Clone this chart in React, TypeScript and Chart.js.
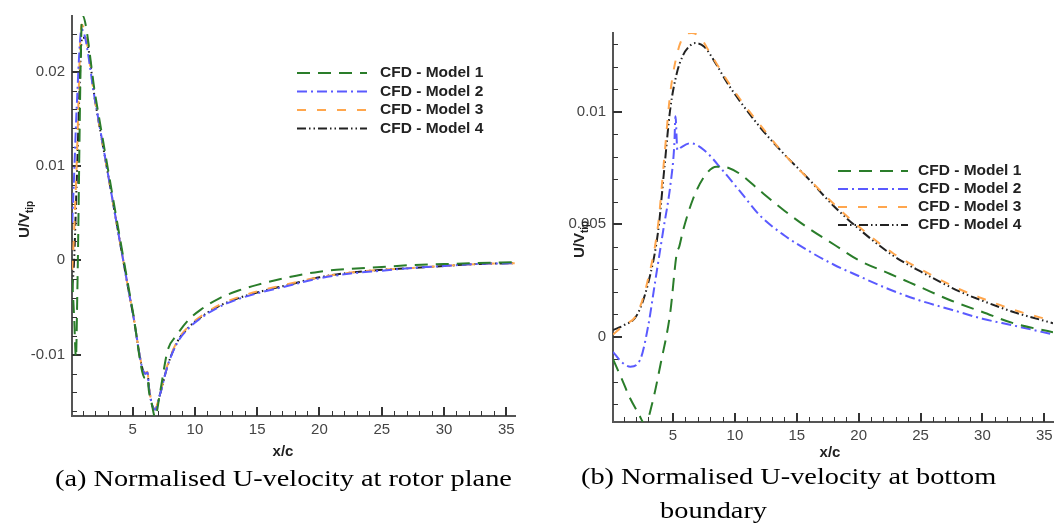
import React, { useEffect, useRef } from 'react';
import { Chart, registerables } from 'chart.js';

Chart.register(...registerables);

// ---------- shared series styling ----------
const SERIES_LABELS = ['CFD - Model 1', 'CFD - Model 2', 'CFD - Model 3', 'CFD - Model 4'];
const SERIES_COLORS = ['#2a7d2a', '#5a5aff', '#ffa64d', '#222222'];
const SERIES_DASHES = [[13, 8], [10, 4, 2, 4], [9, 11], [9, 3, 1.5, 3, 1.5, 3]];

// ---------- chart (a): rotor plane ----------
const aX1 = [0.15, 0.3, 0.45, 0.55, 0.95, 2, 3, 4, 5, 6, 6.2, 6.3, 6.5, 6.8, 7.2, 7.8, 8.5, 9.5, 10.5, 12, 13.5, 15, 17.5, 20, 22.5, 25, 27.5, 30, 32.5, 35.7];
const aY1 = [-0.002, -0.006, -0.0103, -0.004, 0.026, 0.0175, 0.0098, 0.0022, -0.0053, -0.0125, -0.0124, -0.0138, -0.015, -0.0166, -0.014, -0.0096, -0.008, -0.0063, -0.0052, -0.004, -0.0032, -0.0026, -0.0018, -0.0012, -0.0009, -0.0007, -0.0005, -0.0004, -0.0003, -0.0002];

const aX2 = [0.15, 0.3, 0.5, 0.9, 2, 3, 4, 5, 6, 6.2, 6.3, 6.6, 6.8, 7.2, 7.8, 8.6, 9.5, 10.5, 12, 13.5, 15, 17.5, 20, 22.5, 25, 27.5, 30, 32.5, 35.7];
const aY2 = [0.004, 0.009, 0.016, 0.0245, 0.0168, 0.0093, 0.0018, -0.0055, -0.012, -0.0119, -0.0134, -0.0155, -0.0158, -0.0142, -0.0112, -0.0087, -0.0072, -0.0061, -0.0049, -0.0041, -0.0035, -0.0027, -0.0019, -0.0014, -0.0011, -0.0008, -0.0006, -0.0004, -0.0003];

const aX3 = [0.15, 0.3, 0.5, 0.9, 2, 3, 4, 5, 6, 6.2, 6.3, 6.6, 6.8, 7.2, 7.8, 8.6, 9.5, 10.5, 12, 13.5, 15, 17.5, 20, 22.5, 25, 27.5, 30, 32.5, 35.7];
const aY3 = [-0.001, 0.003, 0.01, 0.025, 0.0168, 0.0093, 0.0018, -0.0055, -0.0119, -0.0118, -0.0133, -0.0154, -0.0157, -0.0141, -0.0111, -0.0085, -0.007, -0.0059, -0.0047, -0.0039, -0.0033, -0.0025, -0.0018, -0.0013, -0.001, -0.0008, -0.0006, -0.0004, -0.0003];

const aX4 = [0.15, 0.3, 0.5, 0.95, 1.2, 2, 3, 4, 5, 6, 6.2, 6.3, 6.6, 6.8, 7.2, 7.8, 8.6, 9.5, 10.5, 12, 13.5, 15, 17.5, 20, 22.5, 25, 27.5, 30, 32.5, 35.7];
const aY4 = [-0.003, 0.0, 0.008, 0.0236, 0.0236, 0.0168, 0.0093, 0.0018, -0.0055, -0.012, -0.0119, -0.0134, -0.0155, -0.0158, -0.0142, -0.0112, -0.0086, -0.0071, -0.006, -0.0048, -0.004, -0.0034, -0.0026, -0.0018, -0.0013, -0.001, -0.0008, -0.0006, -0.0004, -0.0003];

const aXTicks = [5, 10, 15, 20, 25, 30, 35];
const aYTicks = [-0.01, 0, 0.01, 0.02];
const aYTickLabels = ['-0.01', '0', '0.01', '0.02'];

// ---------- chart (b): bottom boundary ----------
const bX1 = [0.15, 0.8, 1.5, 2.2, 2.75, 3.3, 4, 4.77, 5.3, 5.5, 5.8, 6.6, 7.5, 8.5, 9.5, 10.5, 12, 14, 16, 18, 20, 22.5, 25, 27.5, 30, 32.5, 35.7];
const bY1 = [-0.001, -0.0018, -0.0027, -0.0034, -0.0039, -0.003, -0.0012, 0.00105, 0.0037, 0.004, 0.0047, 0.0061, 0.0071, 0.00756, 0.0075, 0.0072, 0.0065, 0.0056, 0.0048, 0.0041, 0.0034, 0.0028, 0.0022, 0.0016, 0.0011, 0.0006, 0.0002];

const bX2 = [0.15, 0.8, 1.55, 2.36, 3, 3.57, 4.2, 4.8, 5.1, 5.2, 5.35, 5.6, 6.4, 7.5, 9, 10.5, 12, 14, 16, 18, 20, 22.5, 25, 27.5, 30, 32.5, 35.7];
const bY2 = [-0.00067, -0.0011, -0.00133, -0.001, 0.0005, 0.0025, 0.0047, 0.0068, 0.0085, 0.0098, 0.0083, 0.0084, 0.0086, 0.0083, 0.0074, 0.0064, 0.0054, 0.0045, 0.0038, 0.0032, 0.0027, 0.0021, 0.0016, 0.0012, 0.0008, 0.0005, 0.0001];

const bX3 = [0.15, 1, 2.08, 3, 3.8, 4.3, 4.77, 5.3, 5.8, 6.5, 7.2, 8, 9.36, 10.5, 12.05, 14, 15.8, 18, 20, 22.8, 25, 28.2, 30, 32.5, 35.7];
const bY3 = [0.0001, 0.0005, 0.001, 0.0026, 0.005, 0.008, 0.0108, 0.0125, 0.0133, 0.0135, 0.0133, 0.0126, 0.0114, 0.0105, 0.0094, 0.0081, 0.0071, 0.0059, 0.0049, 0.0037, 0.003, 0.0021, 0.0017, 0.0012, 0.0007];

const bX4 = [0.15, 1, 2.08, 3, 3.8, 4.3, 4.77, 5.3, 5.8, 6.3, 6.8, 7.5, 8.5, 9.36, 10.5, 12.05, 14, 15.8, 18, 20, 22.8, 25, 28.2, 30, 32.5, 35.7];
const bY4 = [0.0003, 0.0005, 0.00096, 0.0024, 0.0047, 0.0075, 0.0101, 0.0117, 0.0125, 0.0129, 0.01305, 0.0129, 0.0121, 0.0113, 0.0104, 0.0093, 0.0081, 0.0071, 0.0058, 0.0048, 0.0036, 0.0029, 0.002, 0.0016, 0.0011, 0.0006];

const bXTicks = [5, 10, 15, 20, 25, 30, 35];
const bYTicks = [0, 0.005, 0.01];
const bYTickLabels = ['0', '0.005', '0.01'];

const SANS = "'Liberation Sans', Arial, Helvetica, sans-serif";
const SERIF = "'Liberation Serif', 'Times New Roman', serif";

type PanelCfg = {
  width: number;
  height: number;
  xs: number[][];
  ys: number[][];
  xMin: number;
  xMax: number;
  yMin: number;
  yMax: number;
  xTicks: number[];
  yTicks: number[];
  yTickLabels: string[];
  yMinorStep: number;
  padTop: number;
  padRight: number;
  yAxisWidth: number;
  xAxisHeight: number;
  legendX: number;
  legendY: number;
  legendRow: number;
  legendTextGap: number;
  yTitleX: number;
  yTitleY: number;
  xTitleX: number;
  xTitleY: number;
};

function range(a: number, b: number, s: number): number[] {
  const out: number[] = [];
  const n = Math.round((b - a) / s);
  for (let i = 0; i <= n; i++) out.push(+(a + i * s).toFixed(6));
  return out;
}

function decorPlugin(cfg: PanelCfg) {
  return {
    id: 'decor',
    beforeDatasetsDraw(chart: any) {
      const { ctx, chartArea, scales } = chart;
      const xs = scales.x;
      const ys = scales.y;
      ctx.save();
      ctx.strokeStyle = '#333';
      const xMinor = range(1, 35, 1).filter((v) => !cfg.xTicks.includes(v));
      ctx.lineWidth = 1;
      xMinor.forEach((v) => {
        if (v < cfg.xMin || v > cfg.xMax) return;
        const p = Math.round(xs.getPixelForValue(v)) + 0.5;
        ctx.beginPath();
        ctx.moveTo(p, chartArea.bottom);
        ctx.lineTo(p, chartArea.bottom - 5);
        ctx.stroke();
      });
      ctx.lineWidth = 2;
      cfg.xTicks.forEach((v) => {
        const p = Math.round(xs.getPixelForValue(v));
        ctx.beginPath();
        ctx.moveTo(p, chartArea.bottom);
        ctx.lineTo(p, chartArea.bottom - 9);
        ctx.stroke();
      });
      const yMinor = range(
        Math.ceil(cfg.yMin / cfg.yMinorStep) * cfg.yMinorStep,
        Math.floor(cfg.yMax / cfg.yMinorStep) * cfg.yMinorStep,
        cfg.yMinorStep
      ).filter((v) => !cfg.yTicks.some((t) => Math.abs(t - v) < 1e-9));
      ctx.lineWidth = 1;
      yMinor.forEach((v) => {
        const p = Math.round(ys.getPixelForValue(v)) + 0.5;
        ctx.beginPath();
        ctx.moveTo(chartArea.left, p);
        ctx.lineTo(chartArea.left + 5, p);
        ctx.stroke();
      });
      ctx.lineWidth = 2;
      cfg.yTicks.forEach((v) => {
        const p = Math.round(ys.getPixelForValue(v));
        ctx.beginPath();
        ctx.moveTo(chartArea.left, p);
        ctx.lineTo(chartArea.left + 9, p);
        ctx.stroke();
      });
      ctx.restore();
    },
    afterDraw(chart: any) {
      const { ctx } = chart;
      ctx.save();
      SERIES_LABELS.forEach((lab, i) => {
        const y = cfg.legendY + i * cfg.legendRow;
        ctx.strokeStyle = SERIES_COLORS[i];
        ctx.lineWidth = 2;
        ctx.setLineDash(SERIES_DASHES[i]);
        ctx.beginPath();
        ctx.moveTo(cfg.legendX, y);
        ctx.lineTo(cfg.legendX + 70, y);
        ctx.stroke();
        ctx.setLineDash([]);
        ctx.fillStyle = '#222';
        ctx.font = `bold 15.5px ${SANS}`;
        ctx.textBaseline = 'middle';
        ctx.textAlign = 'left';
        ctx.fillText(lab, cfg.legendX + cfg.legendTextGap, y);
      });
      ctx.fillStyle = '#222';
      ctx.font = `bold 15px ${SANS}`;
      ctx.textAlign = 'center';
      ctx.textBaseline = 'middle';
      ctx.fillText('x/c', cfg.xTitleX, cfg.xTitleY);
      ctx.translate(cfg.yTitleX, cfg.yTitleY);
      ctx.rotate(-Math.PI / 2);
      ctx.textAlign = 'left';
      ctx.textBaseline = 'alphabetic';
      ctx.font = `bold 15px ${SANS}`;
      ctx.fillText('U/V', 0, 0);
      const w = ctx.measureText('U/V').width;
      ctx.font = `bold 10px ${SANS}`;
      ctx.fillText('tip', w, 4);
      ctx.restore();
    },
  };
}

function Panel({ cfg, left }: { cfg: PanelCfg; left: number }) {
  const ref = useRef<HTMLCanvasElement | null>(null);
  useEffect(() => {
    if (!ref.current) return;
    const datasets = cfg.xs.map((xArr, i) => ({
      label: SERIES_LABELS[i],
      data: xArr.map((x, j) => ({ x, y: cfg.ys[i][j] })),
      borderColor: SERIES_COLORS[i],
      borderDash: SERIES_DASHES[i],
      borderWidth: 2,
      pointRadius: 0,
      fill: false,
      cubicInterpolationMode: 'monotone' as const,
    }));
    const chart = new Chart(ref.current, {
      type: 'line',
      data: { datasets },
      options: {
        animation: false,
        responsive: false,
        devicePixelRatio: 1,
        layout: { padding: { top: cfg.padTop, right: cfg.padRight, left: 0, bottom: 0 } },
        plugins: { legend: { display: false }, tooltip: { enabled: false } },
        scales: {
          x: {
            type: 'linear',
            min: cfg.xMin,
            max: cfg.xMax,
            grid: { display: false, drawTicks: false },
            border: { display: true, color: '#555', width: 2 },
            ticks: { font: { family: SANS, size: 15 }, color: '#444', padding: 5, autoSkip: false, maxRotation: 0 },
            afterBuildTicks: (s: any) => {
              s.ticks = cfg.xTicks.map((v) => ({ value: v }));
            },
            afterFit: (s: any) => {
              s.height = cfg.xAxisHeight;
            },
          },
          y: {
            type: 'linear',
            min: cfg.yMin,
            max: cfg.yMax,
            grid: { display: false, drawTicks: false },
            border: { display: true, color: '#555', width: 2 },
            ticks: {
              font: { family: SANS, size: 15 },
              color: '#444',
              padding: 7,
              autoSkip: false,
              callback: (v: any) => {
                const k = cfg.yTicks.findIndex((t) => Math.abs(t - Number(v)) < 1e-9);
                return k >= 0 ? cfg.yTickLabels[k] : '';
              },
            },
            afterBuildTicks: (s: any) => {
              s.ticks = cfg.yTicks.map((v) => ({ value: v }));
            },
            afterFit: (s: any) => {
              s.width = cfg.yAxisWidth;
            },
          },
        },
      },
      plugins: [decorPlugin(cfg)],
    });
    return () => chart.destroy();
  }, [cfg]);
  return (
    <canvas
      ref={ref}
      width={cfg.width}
      height={cfg.height}
      style={{ position: 'absolute', left, top: 0, width: cfg.width, height: cfg.height }}
    />
  );
}

const cfgA: PanelCfg = {
  width: 540,
  height: 470,
  xs: [aX1, aX2, aX3, aX4],
  ys: [aY1, aY2, aY3, aY4],
  xMin: 0.13,
  xMax: 35.7,
  yMin: -0.0165,
  yMax: 0.0259,
  xTicks: aXTicks,
  yTicks: aYTicks,
  yTickLabels: aYTickLabels,
  yMinorStep: 0.002,
  padTop: 13,
  padRight: 25,
  yAxisWidth: 72,
  xAxisHeight: 54,
  legendX: 297,
  legendY: 73,
  legendRow: 18.5,
  legendTextGap: 83,
  yTitleX: 29,
  yTitleY: 238,
  xTitleX: 283,
  xTitleY: 452,
};

const cfgB: PanelCfg = {
  width: 519,
  height: 470,
  xs: [bX1, bX2, bX3, bX4],
  ys: [bY1, bY2, bY3, bY4],
  xMin: 0.15,
  xMax: 35.7,
  yMin: -0.00379,
  yMax: 0.0135,
  xTicks: bXTicks,
  yTicks: bYTicks,
  yTickLabels: bYTickLabels,
  yMinorStep: 0.001,
  padTop: 33,
  padRight: 6,
  yAxisWidth: 73,
  xAxisHeight: 48,
  legendX: 298,
  legendY: 171,
  legendRow: 18,
  legendTextGap: 80,
  yTitleX: 44,
  yTitleY: 258,
  xTitleX: 290,
  xTitleY: 453,
};

const captionStyle: React.CSSProperties = {
  position: 'absolute',
  fontFamily: SERIF,
  fontSize: 24,
  color: '#000',
  whiteSpace: 'nowrap',
  transformOrigin: 'left top',
  transform: 'scaleX(1.18)',
  lineHeight: '34px',
};

export default function App() {
  return (
    <div style={{ position: 'absolute', left: 0, top: 0, width: 1059, height: 529, background: '#fff', overflow: 'hidden' }}>
      <Panel cfg={cfgA} left={0} />
      <Panel cfg={cfgB} left={540} />
      <div style={{ ...captionStyle, left: 55, top: 461 }}>(a) Normalised U-velocity at rotor plane</div>
      <div style={{ ...captionStyle, left: 581, top: 459 }}>
        (b) Normalised U-velocity at bottom
        <br />
        <span style={{ paddingLeft: 67 }}>boundary</span>
      </div>
    </div>
  );
}
